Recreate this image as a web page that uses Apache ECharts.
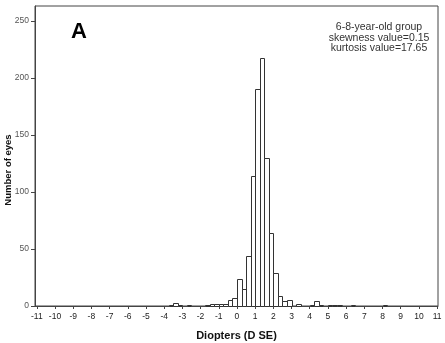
<!DOCTYPE html>
<html>
<head>
<meta charset="utf-8">
<script src="https://cdn.jsdelivr.net/npm/echarts@6/dist/echarts.min.js"></script>
<style>
  html, body { margin: 0; padding: 0; background: #fff; }
  #chart { width: 445px; height: 343px; }
</style>
</head>
<body>
<div id="chart"></div>
<script>
// histogram bins (left edge, D SE) and number of eyes in each 0.25 D bin
const binWidth = 0.25
const binStarts = [-3.75, -3.5, -3.25, -2.75, -1.75, -1.5, -1.25, -1, -0.75, -0.5, -0.25,
  0, 0.25, 0.5, 0.75, 1, 1.25, 1.5, 1.75, 2, 2.25, 2.5, 2.75, 3.25,
  4, 4.25, 4.5, 5, 5.25, 5.5, 6.25, 8]
const counts = [1, 3, 1, 1, 1, 2, 2, 2, 2, 5, 7,
  24, 15, 44, 114, 190, 217, 130, 64, 29, 9, 4, 5, 2,
  1, 4, 1, 1, 1, 1, 1, 1]

const xTicks = [-11, -10, -9, -8, -7, -6, -5, -4, -3, -2, -1, 0, 1, 2, 3, 4, 5, 6, 7, 8, 9, 10, 11]
const yTicks = [0, 50, 100, 150, 200, 250]

const panelLabel = "A"
const noteLines = ["6-8-year-old group", "skewness value=0.15", "kurtosis value=17.65"]

const font = "Liberation Sans"
const chart = echarts.init(document.getElementById("chart"))

const crisp = v => Math.round(v) + 0.5

const option = {
  backgroundColor: "#fff",
  animation: false,
  title: [
    {
      text: panelLabel,
      left: 71,
      top: 21,
      padding: 0,
      textStyle: { fontFamily: font, fontSize: 22, fontWeight: "bold", color: "#000" }
    },
    {
      text: noteLines.join("\n"),
      left: 379,
      top: 22,
      padding: 0,
      textAlign: "center",
      textStyle: { fontFamily: font, fontSize: 10.5, lineHeight: 10.5, fontWeight: "normal", color: "#333" }
    }
  ],
  grid: {
    left: 35,
    right: 7,
    top: 6,
    bottom: 37,
    outerBoundsMode: "none",
    show: true,
    borderColor: "#444",
    borderWidth: 1
  },
  xAxis: {
    type: "value",
    min: -11.1,
    max: 11.05,
    name: "Diopters (D SE)",
    nameLocation: "middle",
    nameGap: 24,
    nameMoveOverlap: false,
    nameTextStyle: { fontFamily: font, fontSize: 11, fontWeight: "bold", color: "#111" },
    axisLine: { onZero: false, lineStyle: { color: "#444" } },
    axisTick: { customValues: xTicks, length: 3, lineStyle: { color: "#444" } },
    axisLabel: { customValues: xTicks, margin: 6, fontFamily: font, fontSize: 8.5, color: "#222" },
    splitLine: { show: false }
  },
  yAxis: {
    type: "value",
    min: 0,
    max: 263,
    name: "Number of eyes",
    nameLocation: "middle",
    nameGap: 22,
    nameMoveOverlap: false,
    nameTextStyle: { fontFamily: font, fontSize: 9.5, fontWeight: "bold", color: "#111", padding: [0, 28, 0, 0] },
    axisLine: { show: true, onZero: false, lineStyle: { color: "#444" } },
    axisTick: { show: true, customValues: yTicks, length: 4, lineStyle: { color: "#444" } },
    axisLabel: { customValues: yTicks, margin: 6, fontFamily: font, fontSize: 8.5, color: "#555" },
    splitLine: { show: false }
  },
  series: [{
    type: "custom",
    data: binStarts.map((b, i) => [b, counts[i]]),
    encode: { x: 0, y: 1 },
    renderItem: (params, api) => {
      const x0 = api.value(0)
      const c = api.value(1)
      const p0 = api.coord([x0, c])
      const p1 = api.coord([x0 + binWidth, 0])
      const left = crisp(p0[0])
      const right = crisp(p1[0])
      const top = crisp(p0[1])
      const bottom = crisp(p1[1])
      return {
        type: "rect",
        shape: { x: left, y: top, width: right - left, height: bottom - top },
        style: { fill: "#fff", stroke: "#333", lineWidth: 1 }
      }
    }
  }]
}

chart.setOption(option)
</script>
</body>
</html>
